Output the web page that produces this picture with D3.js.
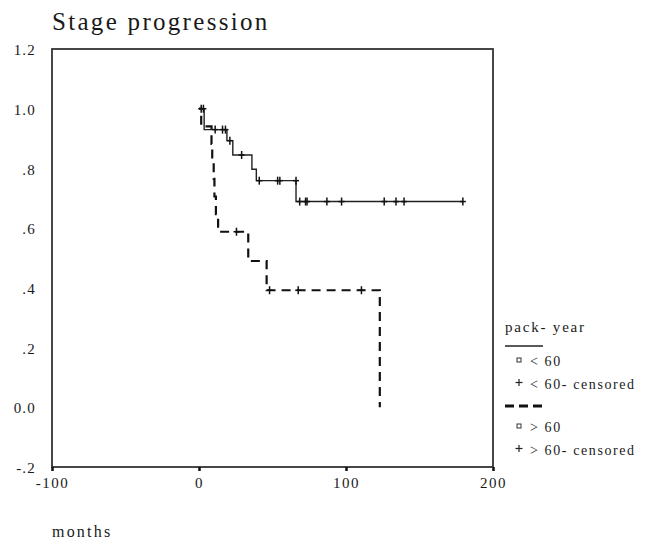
<!DOCTYPE html>
<html>
<head>
<meta charset="utf-8">
<script src="https://cdn.jsdelivr.net/npm/d3@7"></script>
<style>
  body { margin: 0; background: #fff; }
  svg text { font-family: "Liberation Serif", "DejaVu Serif", serif; fill: #1a1a1a; }
</style>
</head>
<body>
<div id="chart"></div>
<script>
// axis ticks
var xTicks = [-100, 0, 100, 200];
var yTicks = [1.2, 1.0, 0.8, 0.6, 0.4, 0.2, 0.0, -0.2];
var yTickLabels = ["1.2", "1.0", ".8", ".6", ".4", ".2", "0.0", "-.2"];

// pack-year < 60 (solid)
var lowTimes = [0, 3.5, 19, 23, 36, 39, 66];
var lowSurv = [1.0, 0.93, 0.893, 0.845, 0.797, 0.759, 0.689];
var lowEnd = 179.5;
var lowCensored = [1.5, 3, 11, 16, 18, 21, 29, 41, 53.5, 55, 66, 68.5, 72.5, 73.5, 87, 97, 126, 134, 139.5, 179.5];

// pack-year > 60 (dashed)
var highTimes = [0, 1.5, 8.5, 9, 10, 10.5, 11.5, 13, 33.5, 46, 123];
var highSurv = [1.0, 0.941, 0.882, 0.824, 0.765, 0.706, 0.647, 0.588, 0.49, 0.392, 0.0];
var highEnd = 123;
var highCensored = [25.5, 48, 67.5, 110.5];

var legendLabels = ["< 60", "< 60- censored", "> 60", "> 60- censored"];

var width = 645, height = 540;

var svg = d3.select("#chart").append("svg")
  .attr("width", width)
  .attr("height", height);

var x = d3.scaleLinear().domain([-100, 200]).range([52, 493]);
var y = d3.scaleLinear().domain([-0.2, 1.2]).range([467, 49]);

// title
svg.append("text")
  .attr("x", 52)
  .attr("y", 30)
  .attr("font-size", 25)
  .attr("letter-spacing", 2.3)
  .text("Stage progression");

// frame
svg.append("rect")
  .attr("x", x.range()[0])
  .attr("y", y.range()[1])
  .attr("width", x.range()[1] - x.range()[0])
  .attr("height", y.range()[0] - y.range()[1])
  .attr("fill", "none")
  .attr("stroke", "#333")
  .attr("stroke-width", 1.8);

// y axis labels
var yAxis = d3.axisLeft(y)
  .tickValues(yTicks)
  .tickFormat((d, i) => yTickLabels[i])
  .tickSize(0)
  .tickPadding(16);

var yg = svg.append("g")
  .attr("transform", "translate(" + x.range()[0] + ",0)")
  .call(yAxis);
yg.select(".domain").remove();
yg.selectAll("text")
  .attr("font-size", 15)
  .attr("letter-spacing", 1.2)
  .style("font-family", "'Liberation Serif', serif")
  .attr("dy", "0.38em");

// x axis
var xAxis = d3.axisBottom(x)
  .tickValues(xTicks)
  .tickFormat(d => String(d))
  .tickSize(4)
  .tickPadding(6);

var xg = svg.append("g")
  .attr("transform", "translate(0," + y.range()[0] + ")")
  .call(xAxis);
xg.select(".domain").remove();
xg.selectAll("line").attr("stroke", "#111").attr("stroke-width", 2.5);
xg.selectAll("text")
  .attr("font-size", 15)
  .attr("letter-spacing", 1.5)
  .style("font-family", "'Liberation Serif', serif");

svg.append("text")
  .attr("x", 52)
  .attr("y", 537)
  .attr("font-size", 16)
  .attr("letter-spacing", 2.2)
  .text("months");

// survival step curves
function stepPoints(times, surv, end) {
  var pts = times.map((t, i) => [t, surv[i]]);
  if (end > times[times.length - 1]) pts.push([end, surv[surv.length - 1]]);
  return pts;
}

function survAt(times, surv, t) {
  var v = surv[0];
  for (var i = 0; i < times.length; i++) {
    if (times[i] < t) v = surv[i];
  }
  return v;
}

var line = d3.line()
  .x(d => x(d[0]))
  .y(d => y(d[1]))
  .curve(d3.curveStepAfter);

var dash = 9, gap = 6;
var highPath = svg.append("path")
  .datum(stepPoints(highTimes, highSurv, highEnd))
  .attr("d", line)
  .attr("fill", "none")
  .attr("stroke", "#111")
  .attr("stroke-width", 2.2)
  .attr("stroke-dasharray", dash + "," + gap);

// shift the dash pattern so the vertical drop to 0 ends on a dash
var len = highPath.node().getTotalLength();
var period = dash + gap;
var offset = ((dash - 0.5 - (len % period)) % period + period) % period;
highPath.attr("stroke-dashoffset", -offset);

svg.append("path")
  .datum(stepPoints(lowTimes, lowSurv, lowEnd))
  .attr("d", line)
  .attr("fill", "none")
  .attr("stroke", "#222")
  .attr("stroke-width", 1.4);

function drawCensors(times, surv, censored) {
  var g = svg.append("g");
  censored.forEach(t => {
    var cx = x(t), cy = y(survAt(times, surv, t));
    g.append("line")
      .attr("x1", cx).attr("x2", cx)
      .attr("y1", cy - 4).attr("y2", cy + 4)
      .attr("stroke", "#111").attr("stroke-width", 1.5);
    g.append("line")
      .attr("x1", cx - 3).attr("x2", cx + 3)
      .attr("y1", cy).attr("y2", cy)
      .attr("stroke", "#111").attr("stroke-width", 1.5);
  });
}
drawCensors(lowTimes, lowSurv, lowCensored);
drawCensors(highTimes, highSurv, highCensored);

// legend
var lg = svg.append("g").attr("transform", "translate(505,0)");
lg.append("text")
  .attr("x", 0).attr("y", 332)
  .attr("font-size", 15)
  .attr("letter-spacing", 1.8)
  .text("pack- year");

lg.append("line")
  .attr("x1", 0).attr("x2", 38)
  .attr("y1", 346).attr("y2", 346)
  .attr("stroke", "#222").attr("stroke-width", 1.3);

lg.append("line")
  .attr("x1", 0).attr("x2", 38)
  .attr("y1", 406).attr("y2", 406)
  .attr("stroke", "#111").attr("stroke-width", 3)
  .attr("stroke-dasharray", "9,5");

var legendY = [362, 385, 428, 451];
legendLabels.forEach((lab, i) => {
  var ly = legendY[i];
  if (i % 2 === 0) {
    lg.append("rect")
      .attr("x", 12).attr("y", ly - 4)
      .attr("width", 4).attr("height", 4)
      .attr("fill", "#fff").attr("stroke", "#333").attr("stroke-width", 1);
  } else {
    lg.append("line").attr("x1", 14).attr("x2", 14)
      .attr("y1", ly - 6).attr("y2", ly + 1)
      .attr("stroke", "#222").attr("stroke-width", 1.2);
    lg.append("line").attr("x1", 10.5).attr("x2", 17.5)
      .attr("y1", ly - 2.5).attr("y2", ly - 2.5)
      .attr("stroke", "#222").attr("stroke-width", 1.2);
  }
  lg.append("text")
    .attr("x", 25).attr("y", ly + 4)
    .attr("font-size", 14)
    .attr("letter-spacing", 1.6)
    .text(lab);
});
</script>
</body>
</html>
